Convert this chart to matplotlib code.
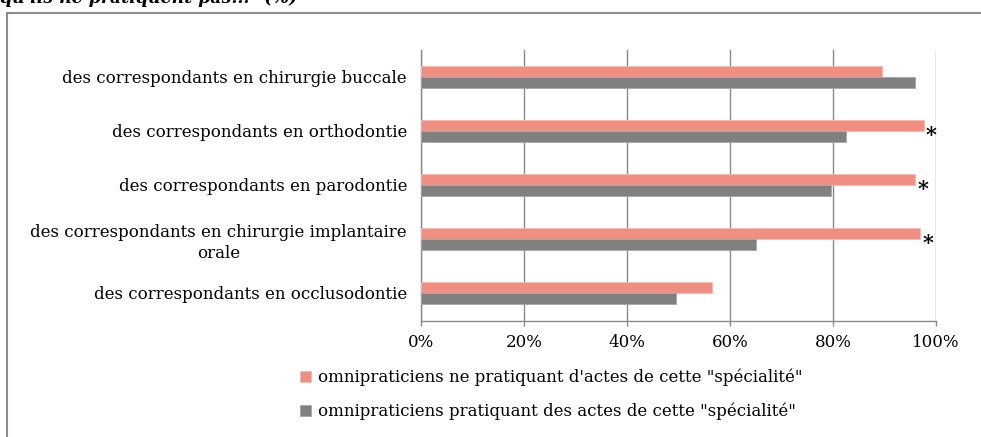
import matplotlib
matplotlib.use("Agg")
import matplotlib.pyplot as plt
from matplotlib.patches import Rectangle
import numpy as np


# ─── Data ─────────────────────────────────────────────────────────────────────

categories = [
    "des correspondants en chirurgie buccale",
    "des correspondants en orthodontie",
    "des correspondants en parodontie",
    "des correspondants en chirurgie implantaire\norale",
    "des correspondants en occlusodontie",
]
non_practicing = [89.6, 97.6, 96.0, 96.9, 56.5]   # pink series
practicing     = [96.0, 82.6, 79.7, 65.1, 49.6]   # grey series
significant    = [False, True, True, True, False] # rows marked with *

label_non  = "omnipraticiens ne pratiquant d'actes de cette \"spécialité\""
label_prat = "omnipraticiens pratiquant des actes de cette \"spécialité\""
heading    = "qu'ils ne pratiquent pas...\" (%)"

xticks = [0, 20, 40, 60, 80, 100]

PINK = "#F08E82"
GREY = "#808080"
GRID = "#8A8A8A"
FONT = "DejaVu Serif"
FS   = 12

plt.rcParams["font.family"] = [FONT]

# ─── Figure / axes placement (pixel-matched to 981x437) ───────────────────────

W, H = 981, 437
fig = plt.figure(figsize=(W / 100, H / 100), dpi=100)
ax = fig.add_axes([421 / W, 1 - 321 / H, (936 - 421) / W, (321 - 50) / H])

y = np.arange(len(categories))
bh = 0.2

bars_non = ax.barh(y - bh / 2, non_practicing, height=bh, color=PINK,
                   edgecolor="#F6B9B1", linewidth=0.6, label=label_non, zorder=3)
bars_pra = ax.barh(y + bh / 2, practicing, height=bh, color=GREY,
                   edgecolor="#A8A8A8", linewidth=0.6, label=label_prat, zorder=3)

# asterisks next to the pink bar for the significant rows
for yi, v, sig in zip(y, non_practicing, significant):
    if sig:
        ax.text(v + 1.5, yi + 0.07, "*", ha="center", va="center",
                fontsize=15, fontweight="bold", color="black", zorder=4)

ax.set_xlim(0, 100)
ax.set_ylim(len(categories) - 0.48, -0.5)
ax.set_xticks(xticks)
ax.set_xticklabels([f"{t}%" for t in xticks], fontsize=FS)
ax.set_yticks(y)
ax.set_yticklabels(categories, fontsize=FS, multialignment="center",
                   linespacing=1.35)

ax.grid(axis="x", color=GRID, linewidth=1.0, zorder=0)
ax.set_axisbelow(True)
ax.tick_params(axis="y", length=0, pad=10)
ax.tick_params(axis="x", length=3.5, color=GRID, width=1.0, pad=6)

for side in ("top", "right"):
    ax.spines[side].set_visible(False)
for side in ("left", "bottom"):
    ax.spines[side].set_color(GRID)
    ax.spines[side].set_linewidth(1.0)

# legend under the axis, stacked
fig.legend(handles=[bars_non, bars_pra], loc="upper left",
           bbox_to_anchor=(293 / W, 1 - 362 / H), frameon=False,
           fontsize=FS, handlelength=0.65, handleheight=0.65,
           handletextpad=0.45, labelspacing=1.0, borderaxespad=0)

# outer frame (clipped on the right and bottom, like the source)
fig.patches.append(Rectangle((6.5 / W, -0.2), 2, 1.2 - 12.5 / H,
                             transform=fig.transFigure, fill=False,
                             edgecolor="#8C8C8C", linewidth=1.5))

# clipped heading from the page above
fig.text(0, 1 - 3 / H, heading, ha="left", va="baseline",
         fontsize=12.5, fontweight="bold", style="italic")

fig.savefig("out.png", dpi=100)
